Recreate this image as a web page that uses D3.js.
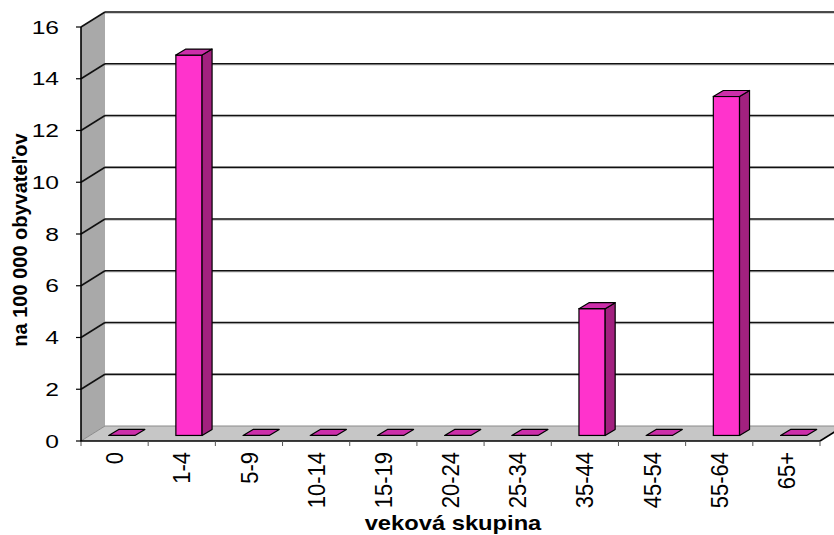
<!DOCTYPE html>
<html>
<head>
<meta charset="utf-8">
<script src="https://cdn.jsdelivr.net/npm/d3@7"></script>
<style>
  html, body { margin: 0; padding: 0; background: #fff; }
  svg { display: block; }
  text { font-family: "Liberation Sans", Arial, sans-serif; fill: #000; }
</style>
</head>
<body>
<svg id="chart" width="834" height="535"></svg>
<script>
const categories = ["0", "1-4", "5-9", "10-14", "15-19", "20-24", "25-34", "35-44", "45-54", "55-64", "65+"];
const values = [0, 14.7, 0, 0, 0, 0, 0, 4.9, 0, 13.1, 0];
const yTicks = [0, 2, 4, 6, 8, 10, 12, 14, 16];
const yTitle = "na 100 000 obyvateľov";
const xTitle = "veková skupina";

const svg = d3.select("#chart");

// front plane geometry
const x0 = 81, x1 = 820, yBase = 441, yTop = 27;
// full depth offset of the 3D box
const DX = 24, DY = -15;
// bar placement within depth
const f0 = 0.37;           // front face of bars at this fraction of depth
const bdx = 10, bdy = -6;  // bar depth

const x = d3.scaleBand().domain(categories).range([x0, x1]).padding(0);
const y = d3.scaleLinear().domain([0, 16]).range([yBase, yTop]);
const bw = x.bandwidth();

const poly = pts => pts.map(p => p.join(",")).join(" ");

// left wall
svg.append("polygon")
  .attr("points", poly([[x0, y(0)], [x0, y(16)], [x0 + DX, y(16) + DY], [x0 + DX, y(0) + DY]]))
  .attr("fill", "#a9a9a9");

// floor
svg.append("polygon")
  .attr("points", poly([[x0, y(0)], [x1, y(0)], [x1 + DX, y(0) + DY], [x0 + DX, y(0) + DY]]))
  .attr("fill", "#c6c6c6");

// floor/back wall edge and left wall/floor edge
svg.append("line")
  .attr("x1", x0 + DX).attr("x2", x1 + DX)
  .attr("y1", y(0) + DY).attr("y2", y(0) + DY)
  .attr("stroke", "#8a8a8a").attr("stroke-width", 1);
svg.append("line")
  .attr("x1", x0).attr("y1", y(0))
  .attr("x2", x0 + DX).attr("y2", y(0) + DY)
  .attr("stroke", "#8a8a8a").attr("stroke-width", 1);

// gridlines (back wall + left wall)
const grid = svg.append("g");
yTicks.filter(t => t > 0).forEach(t => {
  grid.append("line")
    .attr("x1", x0 + DX).attr("x2", x1 + DX + 20)
    .attr("y1", y(t) + DY + 1.2).attr("y2", y(t) + DY + 1.2)
    .attr("stroke", "#bdbdbd").attr("stroke-width", 1);
  grid.append("line")
    .attr("x1", x0 + DX).attr("x2", x1 + DX + 20)
    .attr("y1", y(t) + DY).attr("y2", y(t) + DY)
    .attr("stroke", "#111").attr("stroke-width", 1.6);
  grid.append("line")
    .attr("x1", x0).attr("y1", y(t))
    .attr("x2", x0 + DX).attr("y2", y(t) + DY)
    .attr("stroke", "#111").attr("stroke-width", 1.6);
});

// x axis (floor front edge) + right floor edge
svg.append("line")
  .attr("x1", x0).attr("x2", x1).attr("y1", y(0)).attr("y2", y(0))
  .attr("stroke", "#000").attr("stroke-width", 1.6);
svg.append("line")
  .attr("x1", x1).attr("y1", y(0)).attr("x2", x1 + DX).attr("y2", y(0) + DY)
  .attr("stroke", "#000").attr("stroke-width", 1.6);

// x ticks at band boundaries
const xTickPos = categories.map(c => x(c)).concat([x1]);
svg.append("g").selectAll("line").data(xTickPos).join("line")
  .attr("x1", d => d).attr("x2", d => d)
  .attr("y1", y(0)).attr("y2", y(0) + 5)
  .attr("stroke", "#555").attr("stroke-width", 1);

// y axis line + ticks
svg.append("line")
  .attr("x1", x0).attr("x2", x0).attr("y1", y(0) + 0.5).attr("y2", y(16))
  .attr("stroke", "#000").attr("stroke-width", 1.6);
svg.append("g").selectAll("line").data(yTicks).join("line")
  .attr("x1", x0 - 5).attr("x2", x0)
  .attr("y1", d => y(d)).attr("y2", d => y(d))
  .attr("stroke", "#000").attr("stroke-width", 1.2);

// y tick labels
svg.append("g").selectAll("g").data(yTicks).join("g")
  .attr("transform", d => `translate(59,${y(d)}) scale(1.33,1)`)
  .append("text")
  .attr("text-anchor", "end")
  .attr("dy", "0.36em")
  .attr("font-size", 18.5)
  .text(d => d);

// bars
const barG = svg.append("g");
const stroke = "#000", sw = 1.2;
categories.forEach((c, i) => {
  const v = values[i];
  const fx = x(c) + 0.28 * bw + f0 * DX;  // front-left x
  const w = 0.39 * bw;
  const yb = y(0) + f0 * DY;               // bottom of front face
  const yt = y(v) + f0 * DY;               // top of front face
  if (v > 0) {
    barG.append("rect")
      .attr("x", fx).attr("y", yt).attr("width", w).attr("height", yb - yt)
      .attr("fill", "#ff33cc").attr("stroke", stroke).attr("stroke-width", sw);
    barG.append("polygon")
      .attr("points", poly([[fx + w, yt], [fx + w + bdx, yt + bdy], [fx + w + bdx, yb + bdy], [fx + w, yb]]))
      .attr("fill", "#a2217f").attr("stroke", stroke).attr("stroke-width", sw).attr("stroke-linejoin", "round");
  }
  barG.append("polygon")
    .attr("points", poly([[fx, yt], [fx + w, yt], [fx + w + bdx, yt + bdy], [fx + bdx, yt + bdy]]))
    .attr("fill", "#cc2eaa").attr("stroke", stroke).attr("stroke-width", sw).attr("stroke-linejoin", "round");
});

// category labels (rotated)
svg.append("g").selectAll("g").data(categories).join("g")
  .attr("transform", c => `translate(${x(c) + bw / 2 + 8.6},452) scale(1.1,1) rotate(-90)`)
  .append("text")
  .attr("text-anchor", "end")
  .attr("font-size", 22)
  .text(c => c);

// y title
svg.append("text")
  .attr("transform", "translate(27,240) rotate(-90)")
  .attr("text-anchor", "middle")
  .attr("font-size", 20)
  .attr("font-weight", "bold")
  .text(yTitle);

// x title
svg.append("g")
  .attr("transform", "translate(453,530) scale(1.13,1)")
  .append("text")
  .attr("text-anchor", "middle")
  .attr("font-size", 21)
  .attr("font-weight", "bold")
  .text(xTitle);
</script>
</body>
</html>
